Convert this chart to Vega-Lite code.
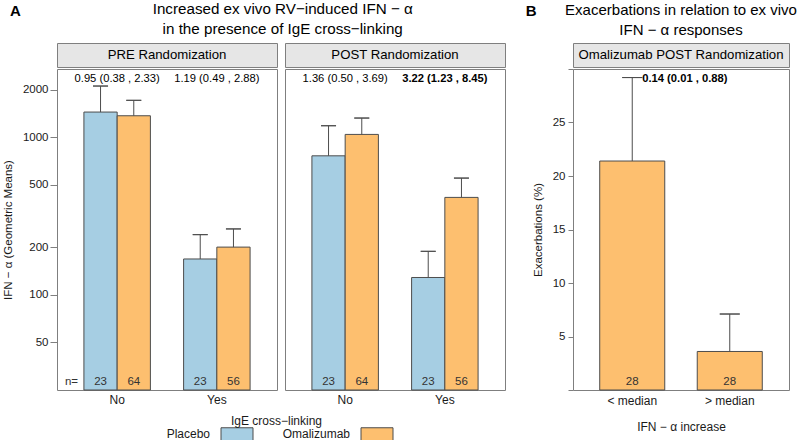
{
  "$schema": "https://vega.github.io/schema/vega-lite/v6.json",
  "padding": {"left": 1, "top": 1, "right": 5, "bottom": 2},
  "config": {
    "font": "Liberation Sans",
    "view": {"stroke": "#7f7f7f", "strokeWidth": 1},
    "axis": {"labelFont": "Liberation Sans", "labelFontSize": 11.5, "labelColor": "#1a1a1a", "titleFont": "Liberation Sans", "titleFontSize": 11.5, "titleFontWeight": "normal", "titleColor": "#1a1a1a", "tickColor": "#7f7f7f", "domain": false, "grid": false},
    "title": {"font": "Liberation Sans", "fontWeight": "normal", "color": "#000000"}
  },
  "datasets": {
    "ifn": [
      {"period": "PRE", "crosslink": "No", "group": "Placebo", "gm": 1441, "upper": 2106, "n": 23},
      {"period": "PRE", "crosslink": "No", "group": "Omalizumab", "gm": 1365, "upper": 1710, "n": 64},
      {"period": "PRE", "crosslink": "Yes", "group": "Placebo", "gm": 169, "upper": 241, "n": 23},
      {"period": "PRE", "crosslink": "Yes", "group": "Omalizumab", "gm": 201, "upper": 262, "n": 56},
      {"period": "POST", "crosslink": "No", "group": "Placebo", "gm": 761, "upper": 1180, "n": 23},
      {"period": "POST", "crosslink": "No", "group": "Omalizumab", "gm": 1040, "upper": 1320, "n": 64},
      {"period": "POST", "crosslink": "Yes", "group": "Placebo", "gm": 129, "upper": 189, "n": 23},
      {"period": "POST", "crosslink": "Yes", "group": "Omalizumab", "gm": 415, "upper": 550, "n": 56}
    ],
    "ratios": [
      {"period": "PRE", "crosslink": "No", "label": "0.95 (0.38 , 2.33)", "ratio": 0.95, "lo": 0.38, "hi": 2.33},
      {"period": "PRE", "crosslink": "Yes", "label": "1.19 (0.49 , 2.88)", "ratio": 1.19, "lo": 0.49, "hi": 2.88},
      {"period": "POST", "crosslink": "No", "label": "1.36 (0.50 , 3.69)", "ratio": 1.36, "lo": 0.5, "hi": 3.69},
      {"period": "POST", "crosslink": "Yes", "label": "3.22 (1.23 , 8.45)", "ratio": 3.22, "lo": 1.23, "hi": 8.45}
    ],
    "exac": [
      {"ifn": "< median", "pct": 21.4, "upper": 29.2, "n": 28, "label": "0.14 (0.01 , 0.88)"},
      {"ifn": "> median", "pct": 3.6, "upper": 7.1, "n": 28}
    ]
  },
  "spacing": 19,
  "hconcat": [
    {
      "title": {"text": "A", "anchor": "start", "frame": "bounds", "fontSize": 15, "fontWeight": "bold", "dx": 8, "dy": 17, "offset": 0},
      "vconcat": [
        {
          "title": {"text": ["Increased ex vivo RV−induced IFN − α", "in the presence of IgE cross−linking"], "anchor": "middle", "frame": "bounds", "fontSize": 15.2, "lineHeight": 20.5, "dx": 29, "offset": 5},
          "spacing": 6,
          "hconcat": [
            {
              "spacing": 0,
              "vconcat": [
                {
                  "width": 220, "height": 24,
                  "view": {"fill": "#e6e6e6", "stroke": "#7f7f7f"},
                  "data": {"values": [{"label": "PRE Randomization"}]},
                  "mark": {"type": "text", "fontSize": 13.2, "color": "#000000"},
                  "encoding": {"text": {"field": "label"}}
                },
                {
                  "width": 220, "height": 321,
                  "layer": [
                    {
                      "data": {"name": "ifn"},
                      "transform": [{"filter": "datum.period == 'PRE'"}],
                      "encoding": {
                        "x": {"field": "crosslink", "type": "nominal", "scale": {"paddingInner": 0.333, "paddingOuter": 0.27}, "axis": {"title": null, "labelAngle": 0, "ticks": false, "labelPadding": 4, "labelFontSize": 12}},
                        "xOffset": {"field": "group", "type": "nominal", "scale": {"domain": ["Placebo", "Omalizumab"], "paddingInner": 0, "paddingOuter": 0}}
                      },
                      "layer": [
                        {
                          "mark": {"type": "bar", "stroke": "#4d4d4d", "strokeWidth": 1},
                          "encoding": {
                            "y": {"field": "gm", "type": "quantitative", "title": "IFN − α (Geometric Means)", "scale": {"type": "log", "domain": [25, 2700], "nice": false}, "axis": {"values": [50, 100, 200, 500, 1000, 2000], "tickSize": 7, "labelPadding": 2, "titlePadding": 9, "format": "d"}},
                            "y2": {"datum": 25},
                            "color": {"field": "group", "type": "nominal", "scale": {"domain": ["Placebo", "Omalizumab"], "range": ["#A6CEE3", "#FDBF6F"]},
                              "legend": {"title": "IgE cross−linking", "orient": "none", "legendX": 174, "legendY": 373, "direction": "horizontal", "titleAnchor": "start", "titleFontSize": 12, "titleFontWeight": "normal", "titleFont": "Liberation Sans", "titleColor": "#1a1a1a", "titlePadding": 0, "labelFontSize": 12, "labelFont": "Liberation Sans", "labelColor": "#1a1a1a", "labelAlign": "right", "labelOffset": -33, "symbolType": "M-3.2,-1.3H3.2V1.3H-3.2Z", "symbolSize": 100, "symbolStrokeColor": "#4d4d4d", "symbolStrokeWidth": 1, "symbolOpacity": 1, "columnPadding": 27}}
                          }
                        },
                        {
                          "mark": {"type": "rule", "color": "#4d4d4d"},
                          "encoding": {"y": {"field": "gm", "type": "quantitative", "title": "IFN − α (Geometric Means)"}, "y2": {"field": "upper"}}
                        },
                        {
                          "mark": {"type": "bar", "width": 15, "fill": null, "stroke": "#4d4d4d", "strokeWidth": 1},
                          "encoding": {"y": {"field": "upper", "type": "quantitative", "title": "IFN − α (Geometric Means)"}, "y2": {"field": "upper"}}
                        },
                        {
                          "mark": {"type": "text", "baseline": "bottom", "dy": -3, "fontSize": 11.5, "color": "#333333"},
                          "encoding": {"y": {"datum": 25}, "text": {"field": "n"}}
                        }
                      ]
                    },
                    {
                      "data": {"values": [{"crosslink": "No", "group": "Placebo", "lab": "n="}]},
                      "mark": {"type": "text", "baseline": "bottom", "dy": -3, "dx": -29, "fontSize": 11.5, "color": "#333333"},
                      "encoding": {
                        "x": {"field": "crosslink", "type": "nominal"},
                        "xOffset": {"field": "group", "type": "nominal"},
                        "y": {"datum": 25},
                        "text": {"field": "lab"}
                      }
                    },
                    {
                      "data": {"name": "ratios"},
                      "transform": [{"filter": "datum.period == 'PRE' && !(datum.lo > 1 || datum.hi < 1)"}],
                      "mark": {"type": "text", "baseline": "middle", "dy": 10, "fontSize": 11.2, "color": "#000000"},
                      "encoding": {"x": {"field": "crosslink", "type": "nominal"}, "y": {"datum": 2700}, "text": {"field": "label"}}
                    }
                  ]
                }
              ]
            },
            {
              "spacing": 0,
              "vconcat": [
                {
                  "width": 220, "height": 24,
                  "view": {"fill": "#e6e6e6", "stroke": "#7f7f7f"},
                  "data": {"values": [{"label": "POST Randomization"}]},
                  "mark": {"type": "text", "fontSize": 13.2, "color": "#000000"},
                  "encoding": {"text": {"field": "label"}}
                },
                {
                  "width": 220, "height": 321,
                  "layer": [
                    {
                      "data": {"name": "ifn"},
                      "transform": [{"filter": "datum.period == 'POST'"}],
                      "encoding": {
                        "x": {"field": "crosslink", "type": "nominal", "scale": {"paddingInner": 0.333, "paddingOuter": 0.27}, "axis": {"title": null, "labelAngle": 0, "ticks": false, "labelPadding": 4, "labelFontSize": 12}},
                        "xOffset": {"field": "group", "type": "nominal", "scale": {"domain": ["Placebo", "Omalizumab"], "paddingInner": 0, "paddingOuter": 0}}
                      },
                      "layer": [
                        {
                          "mark": {"type": "bar", "stroke": "#4d4d4d", "strokeWidth": 1},
                          "encoding": {
                            "y": {"field": "gm", "type": "quantitative", "scale": {"type": "log", "domain": [25, 2700], "nice": false}, "axis": null},
                            "y2": {"datum": 25},
                            "color": {"field": "group", "type": "nominal", "scale": {"domain": ["Placebo", "Omalizumab"], "range": ["#A6CEE3", "#FDBF6F"]},
                              "legend": {"title": "IgE cross−linking", "orient": "none", "legendX": 174, "legendY": 373, "direction": "horizontal", "titleAnchor": "start", "titleFontSize": 12, "titleFontWeight": "normal", "titleFont": "Liberation Sans", "titleColor": "#1a1a1a", "titlePadding": 0, "labelFontSize": 12, "labelFont": "Liberation Sans", "labelColor": "#1a1a1a", "labelAlign": "right", "labelOffset": -33, "symbolType": "M-3.2,-1.3H3.2V1.3H-3.2Z", "symbolSize": 100, "symbolStrokeColor": "#4d4d4d", "symbolStrokeWidth": 1, "symbolOpacity": 1, "columnPadding": 27}}
                          }
                        },
                        {
                          "mark": {"type": "rule", "color": "#4d4d4d"},
                          "encoding": {"y": {"field": "gm", "type": "quantitative", "axis": null}, "y2": {"field": "upper"}}
                        },
                        {
                          "mark": {"type": "bar", "width": 15, "fill": null, "stroke": "#4d4d4d", "strokeWidth": 1},
                          "encoding": {"y": {"field": "upper", "type": "quantitative", "axis": null}, "y2": {"field": "upper"}}
                        },
                        {
                          "mark": {"type": "text", "baseline": "bottom", "dy": -3, "fontSize": 11.5, "color": "#333333"},
                          "encoding": {"y": {"datum": 25, "axis": null}, "text": {"field": "n"}}
                        }
                      ]
                    },
                    {
                      "data": {"name": "ratios"},
                      "transform": [{"filter": "datum.period == 'POST' && !(datum.lo > 1 || datum.hi < 1)"}],
                      "mark": {"type": "text", "baseline": "middle", "dy": 10, "fontSize": 11.2, "color": "#000000"},
                      "encoding": {"x": {"field": "crosslink", "type": "nominal"}, "y": {"datum": 2700, "axis": null}, "text": {"field": "label"}}
                    },
                    {
                      "data": {"name": "ratios"},
                      "transform": [{"filter": "datum.period == 'POST' && (datum.lo > 1 || datum.hi < 1)"}],
                      "mark": {"type": "text", "baseline": "middle", "dy": 10, "fontSize": 11.2, "fontWeight": "bold", "color": "#000000"},
                      "encoding": {"x": {"field": "crosslink", "type": "nominal"}, "y": {"datum": 2700, "axis": null}, "text": {"field": "label"}}
                    }
                  ]
                }
              ]
            }
          ]
        }
      ]
    },
    {
      "title": {"text": "B", "anchor": "start", "frame": "bounds", "fontSize": 15, "fontWeight": "bold", "dx": -6, "dy": 17, "offset": 0},
      "spacing": 0,
      "vconcat": [
        {
          "width": 216, "height": 24,
          "view": {"fill": "#e6e6e6", "stroke": "#7f7f7f"},
          "title": {"text": ["Exacerbations in relation to ex vivo", "IFN − α responses"], "anchor": "middle", "frame": "group", "fontSize": 15, "lineHeight": 20.5, "offset": 5},
          "data": {"values": [{"label": "Omalizumab POST Randomization"}]},
          "mark": {"type": "text", "fontSize": 13.2, "color": "#000000"},
          "encoding": {"text": {"field": "label"}}
        },
        {
          "width": 216, "height": 321,
          "data": {"name": "exac"},
          "encoding": {
            "x": {"field": "ifn", "type": "nominal", "sort": ["< median", "> median"], "scale": {"paddingInner": 0.333, "paddingOuter": 0.274}, "axis": {"title": "IFN − α increase", "labelAngle": 0, "ticks": false, "labelPadding": 5, "titlePadding": 15, "labelFontSize": 12, "titleFontSize": 12}}
          },
          "layer": [
            {
              "mark": {"type": "bar", "color": "#FDBF6F", "stroke": "#4d4d4d", "strokeWidth": 1},
              "encoding": {"y": {"field": "pct", "type": "quantitative", "title": "Exacerbations (%)", "scale": {"domain": [0, 30], "nice": false}, "axis": {"values": [0, 5, 10, 15, 20, 25, 30], "labelExpr": "datum.value == 0 || datum.value == 30 ? '' : datum.label", "tickSize": 5, "labelPadding": 3, "titlePadding": 9}}}
            },
            {
              "mark": {"type": "rule", "color": "#4d4d4d"},
              "encoding": {"y": {"field": "pct", "type": "quantitative", "title": "Exacerbations (%)"}, "y2": {"field": "upper"}}
            },
            {
              "mark": {"type": "bar", "width": 20, "fill": null, "stroke": "#4d4d4d", "strokeWidth": 1},
              "encoding": {"y": {"field": "upper", "type": "quantitative", "title": "Exacerbations (%)"}, "y2": {"field": "upper"}}
            },
            {
              "mark": {"type": "text", "baseline": "bottom", "dy": -3, "fontSize": 11.5, "color": "#333333"},
              "encoding": {"y": {"datum": 0}, "text": {"field": "n"}}
            },
            {
              "transform": [{"filter": "isValid(datum.label)"}],
              "mark": {"type": "text", "align": "left", "baseline": "middle", "dx": 10, "dy": 1, "fontSize": 11.2, "fontWeight": "bold", "color": "#000000"},
              "encoding": {"y": {"field": "upper", "type": "quantitative", "title": "Exacerbations (%)"}, "text": {"field": "label"}}
            }
          ]
        }
      ]
    }
  ]
}
